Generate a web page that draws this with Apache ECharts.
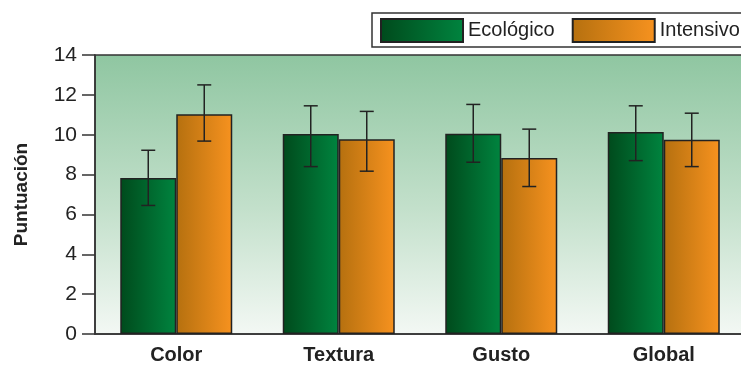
<!DOCTYPE html>
<html><head><meta charset="utf-8">
<script src="https://cdn.jsdelivr.net/npm/echarts@6/dist/echarts.min.js"></script>
<style>html,body{margin:0;padding:0;overflow:hidden;background:#fff}#c{width:760px;height:365px}</style>
</head><body><div id="c"></div>
<script>
const categories = ['Color', 'Textura', 'Gusto', 'Global'];
const seriesNames = ['Ecológico', 'Intensivo'];
const ecologico = [7.83, 10.03, 10.05, 10.13];
const ecologicoLow = [6.45, 8.4, 8.62, 8.7];
const ecologicoHigh = [9.22, 11.45, 11.52, 11.45];
const intensivo = [11.03, 9.77, 8.83, 9.75];
const intensivoLow = [9.68, 8.17, 7.4, 8.4];
const intensivoHigh = [12.5, 11.17, 10.28, 11.08];
const yTicks = [0, 2, 4, 6, 8, 10, 12, 14];

const FONT = '"Liberation Sans",Arial,sans-serif';
const chart = echarts.init(document.getElementById('c'));
const grad = (a, b) => new echarts.graphic.LinearGradient(0, 0, 1, 0, [{offset: 0, color: a}, {offset: 1, color: b}]);
const greenG = grad('#004a1c', '#00843f');
const orangeG = grad('#b5700f', '#f7921f');

const errData = [];
categories.forEach((c, i) => {
  errData.push([i, ecologicoLow[i], ecologicoHigh[i], 0]);
  errData.push([i, intensivoLow[i], intensivoHigh[i], 1]);
});

chart.setOption({
  animation: false,
  textStyle: {fontFamily: FONT},
  grid: {
    left: 95, right: 15, top: 55, bottom: 30, show: true,
    borderColor: '#333', borderWidth: 1.5,
    backgroundColor: new echarts.graphic.LinearGradient(0, 0, 0, 1, [
      {offset: 0, color: '#8fc6a1'}, {offset: 0.55, color: '#c3e0cb'}, {offset: 1, color: '#f3f8f4'}])
  },
  legend: {
    left: 372, top: 13,
    data: seriesNames.map(n => ({name: n, icon: 'rect'})),
    itemWidth: 82, itemHeight: 23, itemGap: 17,
    borderColor: '#333', borderWidth: 1.5, borderRadius: 0,
    padding: [5, 12, 4, 8],
    textStyle: {fontSize: 20, color: '#222', fontFamily: FONT}
  },
  xAxis: {
    type: 'category', data: categories,
    axisLine: {lineStyle: {color: '#333', width: 1.5}},
    axisTick: {length: 11, lineStyle: {color: '#333', width: 1.5}},
    axisLabel: {fontSize: 20, fontWeight: 'bold', color: '#222', margin: 11, fontFamily: FONT}
  },
  yAxis: {
    type: 'value', min: 0, max: 14, interval: 2,
    name: 'Puntuación', nameLocation: 'middle', nameGap: 64, nameRotate: 90,
    nameTextStyle: {fontSize: 19, fontWeight: 'bold', color: '#222', fontFamily: FONT},
    axisLine: {show: true, lineStyle: {color: '#333', width: 1.5}},
    axisTick: {show: true, length: 13, lineStyle: {color: '#333', width: 1.5}},
    axisLabel: {fontSize: 21, color: '#222', margin: 18, fontFamily: FONT,
      formatter: v => yTicks.includes(v) ? String(v) : ''},
    splitLine: {show: false}
  },
  series: [
    {name: seriesNames[0], type: 'bar', data: ecologico, barWidth: 56, barGap: '0%',
     itemStyle: {color: greenG, borderColor: '#222', borderWidth: 1.5}},
    {name: seriesNames[1], type: 'bar', data: intensivo, barWidth: 56, barGap: '0%',
     itemStyle: {color: orangeG, borderColor: '#222', borderWidth: 1.5}},
    {type: 'custom', data: errData, z: 10,
     renderItem: (params, api) => {
       const ci = api.value(0), lo = api.value(1), hi = api.value(2), s = api.value(3);
       const pLo = api.coord([ci, lo]), pHi = api.coord([ci, hi]);
       const x = pLo[0] + (s === 0 ? -28 : 28);
       const cap = 7;
       const st = {stroke: '#222', lineWidth: 1.5};
       return {type: 'group', children: [
         {type: 'line', shape: {x1: x, y1: pLo[1], x2: x, y2: pHi[1]}, style: st},
         {type: 'line', shape: {x1: x - cap, y1: pLo[1], x2: x + cap, y2: pLo[1]}, style: st},
         {type: 'line', shape: {x1: x - cap, y1: pHi[1], x2: x + cap, y2: pHi[1]}, style: st}
       ]};
     }}
  ]
});
</script></body></html>
